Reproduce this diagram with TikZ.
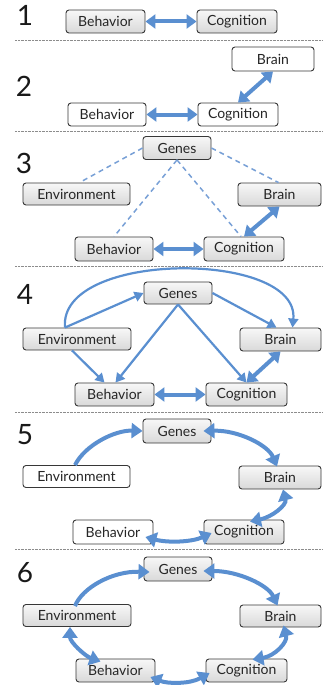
\documentclass[tikz,border=0pt]{standalone}
\usepackage{fontspec}
\setmainfont{Lato}
\usetikzlibrary{arrows.meta}
\definecolor{arr}{RGB}{90,143,208}
\definecolor{dsh}{RGB}{120,160,214}
\definecolor{boxline}{RGB}{55,55,55}
\begin{document}
\begin{tikzpicture}[x=1pt,y=-1pt,
  box/.style={draw=boxline, line width=0.9pt, rounded corners=3pt, inner sep=0pt,
    font=\fontsize{14}{14}\selectfont, text=black!85},
  gbox/.style={box, top color=black!3, bottom color=black!15},
  wbox/.style={box, fill=white},
  num/.style={font=\fontsize{28}{28}\selectfont, text=black!90, inner sep=0pt},
  sepline/.style={draw=black!45, line width=0.9pt, dash pattern=on 0.7pt off 0.7pt},
  dbl/.style={draw=arr, line width=4pt, {Triangle[length=10pt,width=14pt]}-{Triangle[length=10pt,width=14pt]}},
  one/.style={draw=arr, line width=2.2pt, -{Triangle[length=9pt,width=10pt]}},
  cone/.style={draw=arr, line width=4pt, -{Triangle[length=11pt,width=15pt]}},
  cdbl/.style={draw=arr, line width=4pt, {Triangle[length=11pt,width=15pt]}-{Triangle[length=11pt,width=15pt]}},
  dsl/.style={draw=dsh, line width=1.5pt, dash pattern=on 5pt off 4pt},
]
\useasboundingbox (0,0) rectangle (322,685);

% separators
\foreach \yy in {40,131,266,412,549} \draw[sepline] (15,\yy) -- (322,\yy);

% numbers
\node[num] (n1) at (25,15) {1};
\node[num] (n2) at (24,86) {2};
\node[num] (n3) at (24,163) {3};
\node[num] (n4) at (25,294) {4};
\node[num] (n5) at (25,435) {5};
\node[num] (n6) at (25,573) {6};

% ---- Panel 1
\node[gbox, minimum width=79pt, minimum height=23pt] (b1) at (105.5,21.5) {Behavior};
\node[gbox, minimum width=80pt, minimum height=23pt] (c1) at (237,21.5) {Cognition};
\draw[dbl] (b1.east) -- (c1.west);

% ---- Panel 2
\node[wbox, minimum width=82pt, minimum height=24pt] (r2) at (273,59) {Brain};
\node[wbox, minimum width=78pt, minimum height=23pt] (b2) at (107,114.5) {Behavior};
\node[wbox, minimum width=80pt, minimum height=23pt] (c2) at (238,114.5) {Cognition};
\draw[dbl] (b2.east) -- (c2.west);
\draw[dbl] (c2.north) -- (r2.south);

% ---- Panel 3
\node[gbox, minimum width=68pt, minimum height=23pt] (g3) at (177,148) {Genes};
\node[gbox, minimum width=107pt, minimum height=22pt] (e3) at (76.5,194) {Environment};
\node[gbox, minimum width=83pt, minimum height=23pt] (r3) at (279.5,194.5) {Brain};
\node[gbox, minimum width=78pt, minimum height=24pt] (b3) at (114,249) {Behavior};
\node[gbox, minimum width=80pt, minimum height=24pt] (c3) at (244,249) {Cognition};
\draw[dsl] (g3.west) -- ([xshift=3pt]e3.north);
\draw[dsl] (g3.south) -- (b3.north);
\draw[dsl] (g3.south) -- ([xshift=-3pt]c3.north);
\draw[dsl] (g3.east) -- ([xshift=-1pt]r3.north);
\draw[dbl] (b3.east) -- (c3.west);
\draw[dbl] (c3.north) -- (r3.south);

% ---- Panel 4
\node[gbox, minimum width=68pt, minimum height=22pt] (g4) at (178,293) {Genes};
\node[gbox, minimum width=108pt, minimum height=22pt] (e4) at (77,339) {Environment};
\node[gbox, minimum width=81pt, minimum height=23pt] (r4) at (280.5,339.5) {Brain};
\node[gbox, minimum width=79pt, minimum height=23pt] (b4) at (114.5,394.5) {Behavior};
\node[gbox, minimum width=81pt, minimum height=23pt] (c4) at (246.5,394.5) {Cognition};
\coordinate (s4) at ([xshift=-12pt]e4.north);
\draw[one] (s4) -- (g4.west);
\draw[one] (s4) .. controls (58,250) and (300,250) .. ([xshift=12pt]r4.north);
\draw[one] (g4.east) -- ([xshift=-4pt]r4.north);
\draw[one] (g4.south) -- ([xshift=1pt]b4.north);
\draw[one] (g4.south) -- (c4.north);
\draw[one] ([xshift=-5pt]e4.south) -- ([xshift=-10pt]b4.north);
\draw[dbl] (b4.east) -- (c4.west);
\draw[dbl] (c4.north) -- (r4.south);

% ---- Panel 5
\node[gbox, minimum width=68pt, minimum height=24pt] (g5) at (177,431) {Genes};
\node[wbox, minimum width=107pt, minimum height=22pt] (e5) at (76.5,476.5) {Environment};
\node[gbox, minimum width=82pt, minimum height=23pt] (r5) at (280,477.5) {Brain};
\node[wbox, minimum width=80pt, minimum height=24pt] (b5) at (113,532) {Behavior};
\node[gbox, minimum width=80pt, minimum height=24pt] (c5) at (244,532) {Cognition};
\draw[cone] ([xshift=-1.5pt]e5.north) .. controls (85,445) and (115,430) .. (g5.west);
\draw[cdbl] ([xshift=-8pt]g5.east) .. controls (238,430) and (268,445) .. ([xshift=-3pt,yshift=-1pt]r5.north);
\draw[cdbl] ([xshift=3pt]r5.south) .. controls (287,505) and (272,517) .. ([xshift=6pt,yshift=-2pt]c5.north);
\draw[cdbl] ([xshift=-8pt,yshift=-5pt]b5.east) .. controls (168,543) and (192,542) .. ([xshift=8pt,yshift=-1pt]c5.west);

% ---- Panel 6
\node[gbox, minimum width=68pt, minimum height=24pt] (g6) at (178,569) {Genes};
\node[gbox, minimum width=108pt, minimum height=22pt] (e6) at (77,615.5) {Environment};
\node[gbox, minimum width=81pt, minimum height=22pt] (r6) at (280.5,616) {Brain};
\node[gbox, minimum width=79pt, minimum height=23pt] (b6) at (115.5,670.5) {Behavior};
\node[gbox, minimum width=81pt, minimum height=23pt] (c6) at (246.5,670.5) {Cognition};
\draw[cone] ([xshift=-2pt,yshift=-2pt]e6.north) .. controls (82,588) and (112,571) .. ([xshift=6pt,yshift=-3pt]g6.west);
\draw[cdbl] ([xshift=-9pt,yshift=-2pt]g6.east) .. controls (238,571) and (268,585) .. ([xshift=-3pt,yshift=-1pt]r6.north);
\draw[cdbl] ([xshift=3pt,yshift=2pt]r6.south) .. controls (288,642) and (275,656) .. ([xshift=6pt,yshift=-1pt]c6.north);
\draw[cdbl] ([xshift=4pt,yshift=-2.5pt]c6.west) .. controls (190,684) and (168,684) .. ([xshift=-5pt,yshift=-6.5pt]b6.east);
\draw[cdbl] ([xshift=-15pt,yshift=-3pt]b6.north) .. controls (85,656) and (70,642) .. ([xshift=-7pt]e6.south);
\end{tikzpicture}
\end{document}
